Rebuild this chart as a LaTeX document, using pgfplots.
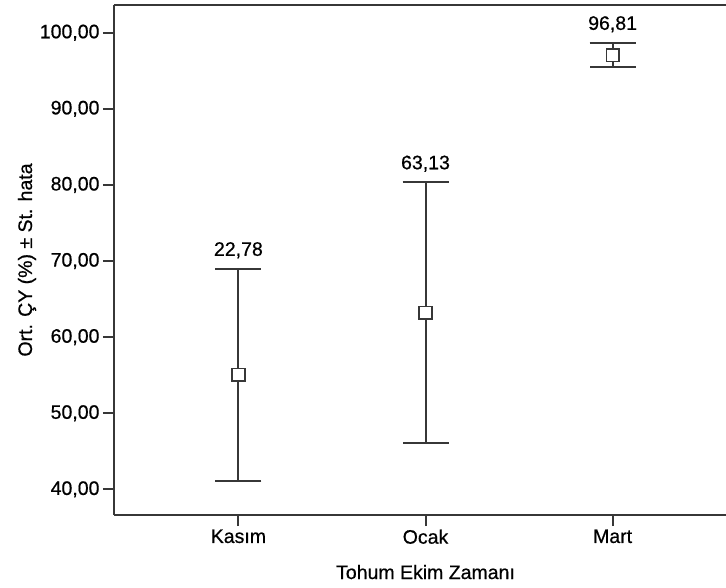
\documentclass[border=0pt]{standalone}
\usepackage{pgfplots}
\pgfplotsset{compat=1.18}
\usepackage{pgfplotstable}
\usepackage{fontspec}
\setmainfont{Liberation Sans}
\newfontfamily\heavy{Liberation Sans}[FakeBold=0.6]
\definecolor{linecol}{RGB}{55,55,55}
\newcommand\f{\heavy\fontsize{19.5}{23}\selectfont}
\pgfplotstableread{
x y err lab
1 55.05 13.93 22,78
2 63.20 17.15 63,13
3 97.05 1.62 96,81
}\data
\begin{document}
\begin{tikzpicture}
\begin{axis}[
  at={(0,0)}, anchor=south west,
  scale only axis, width=612pt, height=510pt,
  xmin=0.335, xmax=3.606, ymin=36.63, ymax=103.64,
  axis x line*=bottom, axis y line*=left,
  axis line style={draw=linecol, line width=2pt},
  every tick/.style={draw=linecol, line width=2pt},
  tick align=outside, major tick length=11pt,
  xtick={1,2,3}, xticklabels={Kasım,Ocak,Mart},
  ytick={40,50,...,100},
  /pgf/number format/assume math mode=true,
  yticklabel style={/pgf/number format/.cd, fixed, fixed zerofill, precision=2, use comma},
  tick label style={font=\f, text=black},
  label style={font=\f, text=black},
  xlabel={Tohum Ekim Zamanı},
  ylabel={Ort. ÇY (\%) ± St. hata},
  xlabel style={at={(axis description cs:0.509,0)}, anchor=base, yshift=-64pt},
  ylabel style={at={(axis description cs:-0.1422,0.5)}, anchor=center},
  clip=false,
]
\draw[draw=linecol, line width=2pt] (rel axis cs:0,1) -- (rel axis cs:1,1);
\addplot[only marks, mark=none,
  error bars/.cd, y dir=both, y explicit,
  error bar style={draw=linecol, line width=2pt},
  error mark options={rotate=90, draw=linecol, line width=2pt, mark size=23pt}]
  table[x=x, y=y, y error=err] {\data};
\addplot[only marks, mark=square*, mark size=6.3pt,
  mark options={draw=linecol, fill=white, line width=1.6pt}]
  table[x=x, y=y] {\data};
\addplot[only marks, mark=none, point meta=explicit symbolic,
  nodes near coords, nodes near coords style={font=\f, text=black, anchor=base, yshift=13pt, inner sep=0pt}]
  table[x=x, y expr=\thisrow{y}+\thisrow{err}, meta=lab] {\data};
\end{axis}
\pgfresetboundingbox
\path[use as bounding box] (-114pt,-72pt) rectangle (612pt,515pt);
\end{tikzpicture}
\end{document}
